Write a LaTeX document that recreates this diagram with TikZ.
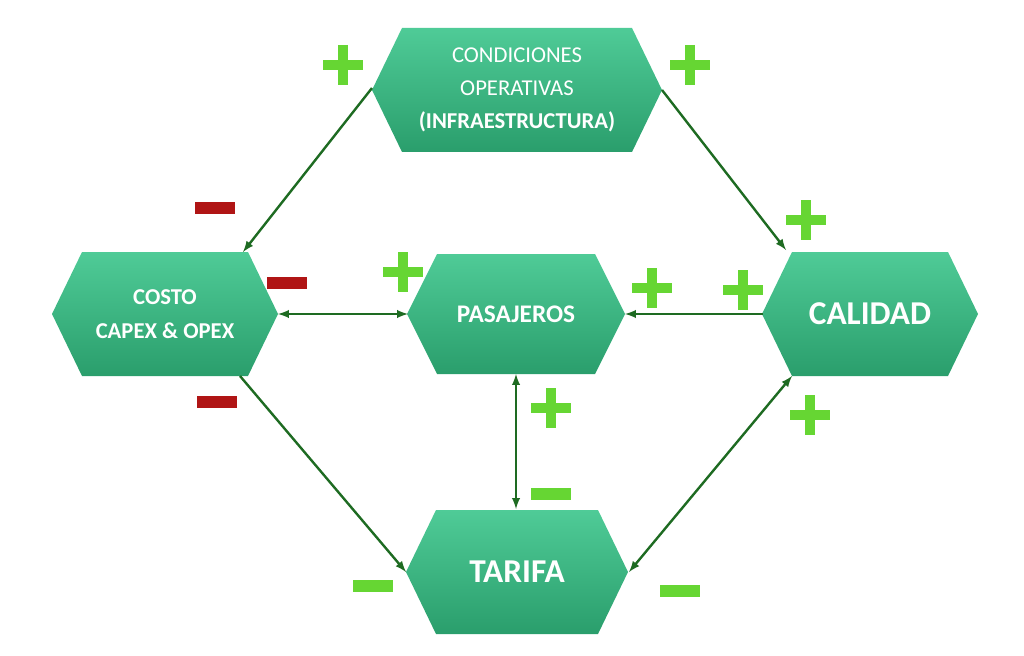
\documentclass[tikz,border=0pt]{standalone}
\usepackage{fontspec}
\setmainfont{Carlito}
\begin{document}
\begin{tikzpicture}[x=0.75pt,y=-0.75pt]
\definecolor{hexT}{HTML}{4FCB97}
\definecolor{hexB}{HTML}{2A9E6C}
\definecolor{arr}{HTML}{1E6B22}
\definecolor{plusg}{HTML}{66D633}
\definecolor{minr}{HTML}{B01515}
\tikzset{
 hexs/.style={top color=hexT,bottom color=hexB,draw=none},
 lbl/.style={text=white,align=center},
 con/.style={draw=arr,line width=1.8pt,-latex},
 dcon/.style={draw=arr,line width=1.8pt,latex-latex},
 pl/.style={draw=plusg,line width=7.5pt},
 mr/.style={fill=minr,draw=none},
 mg/.style={fill=plusg,draw=none}}
\useasboundingbox (0,0) rectangle (1024,656);
\newcommand{\hexa}[7]{% cx cy halfw halfh name font text
 \path[hexs] (#1-#3,#2) -- (#1-#3+30,#2-#4) -- (#1+#3-30,#2-#4) -- (#1+#3,#2) -- (#1+#3-30,#2+#4) -- (#1-#3+30,#2+#4) -- cycle;
 \node[lbl,font=#6] (#5) at (#1,#2) {#7};}
\hexa{517}{90}{145}{62}{cond}{\fontsize{17}{25}\selectfont}{CONDICIONES\\OPERATIVAS\\\textbf{(INFRAESTRUCTURA)}}
\hexa{165}{314}{113}{62}{costo}{\fontsize{17}{25}\selectfont\bfseries}{COSTO\\CAPEX \& OPEX}
\hexa{516}{314}{109}{60}{pas}{\fontsize{19}{22}\selectfont\bfseries}{PASAJEROS}
\hexa{870}{314}{108}{62}{cal}{\fontsize{25}{28}\selectfont\bfseries}{CALIDAD}
\hexa{517}{572}{111}{62}{tar}{\fontsize{25}{28}\selectfont\bfseries}{TARIFA}
\coordinate (condL) at (372,88); \coordinate (condR) at (662,90);
\coordinate (costoT) at (243,252); \coordinate (costoR) at (278,314); \coordinate (costoB) at (240,376);
\coordinate (pasL) at (408,314); \coordinate (pasR) at (625,314); \coordinate (pasB) at (516,374);
\coordinate (calT) at (786,250); \coordinate (calL) at (763,314); \coordinate (calB) at (792,376);
\coordinate (tarT) at (516,509); \coordinate (tarL) at (406,572); \coordinate (tarR) at (629,572);
\draw[con] (condL) -- (costoT);
\draw[con] (condR) -- (calT);
\draw[dcon] (costoR) -- (pasL);
\draw[con] (calL) -- (pasR);
\draw[dcon] (pasB) -- (tarT);
\draw[con] (costoB) -- (tarL);
\draw[dcon] (tarR) -- (calB);
\foreach \x/\y in {343/65,690/65,806/220,403/272,652/288,743/290,551/408,810/415}
 \draw[pl] (\x-20,\y) -- (\x+20,\y) (\x,\y-20) -- (\x,\y+20);
\foreach \x/\y in {215/208,287/283,217/402}
 \fill[mr] (\x-20,\y-6) rectangle (\x+20,\y+6);
\foreach \x/\y in {551/494,373/586,680/591}
 \fill[mg] (\x-20,\y-6) rectangle (\x+20,\y+6);
\end{tikzpicture}
\end{document}
